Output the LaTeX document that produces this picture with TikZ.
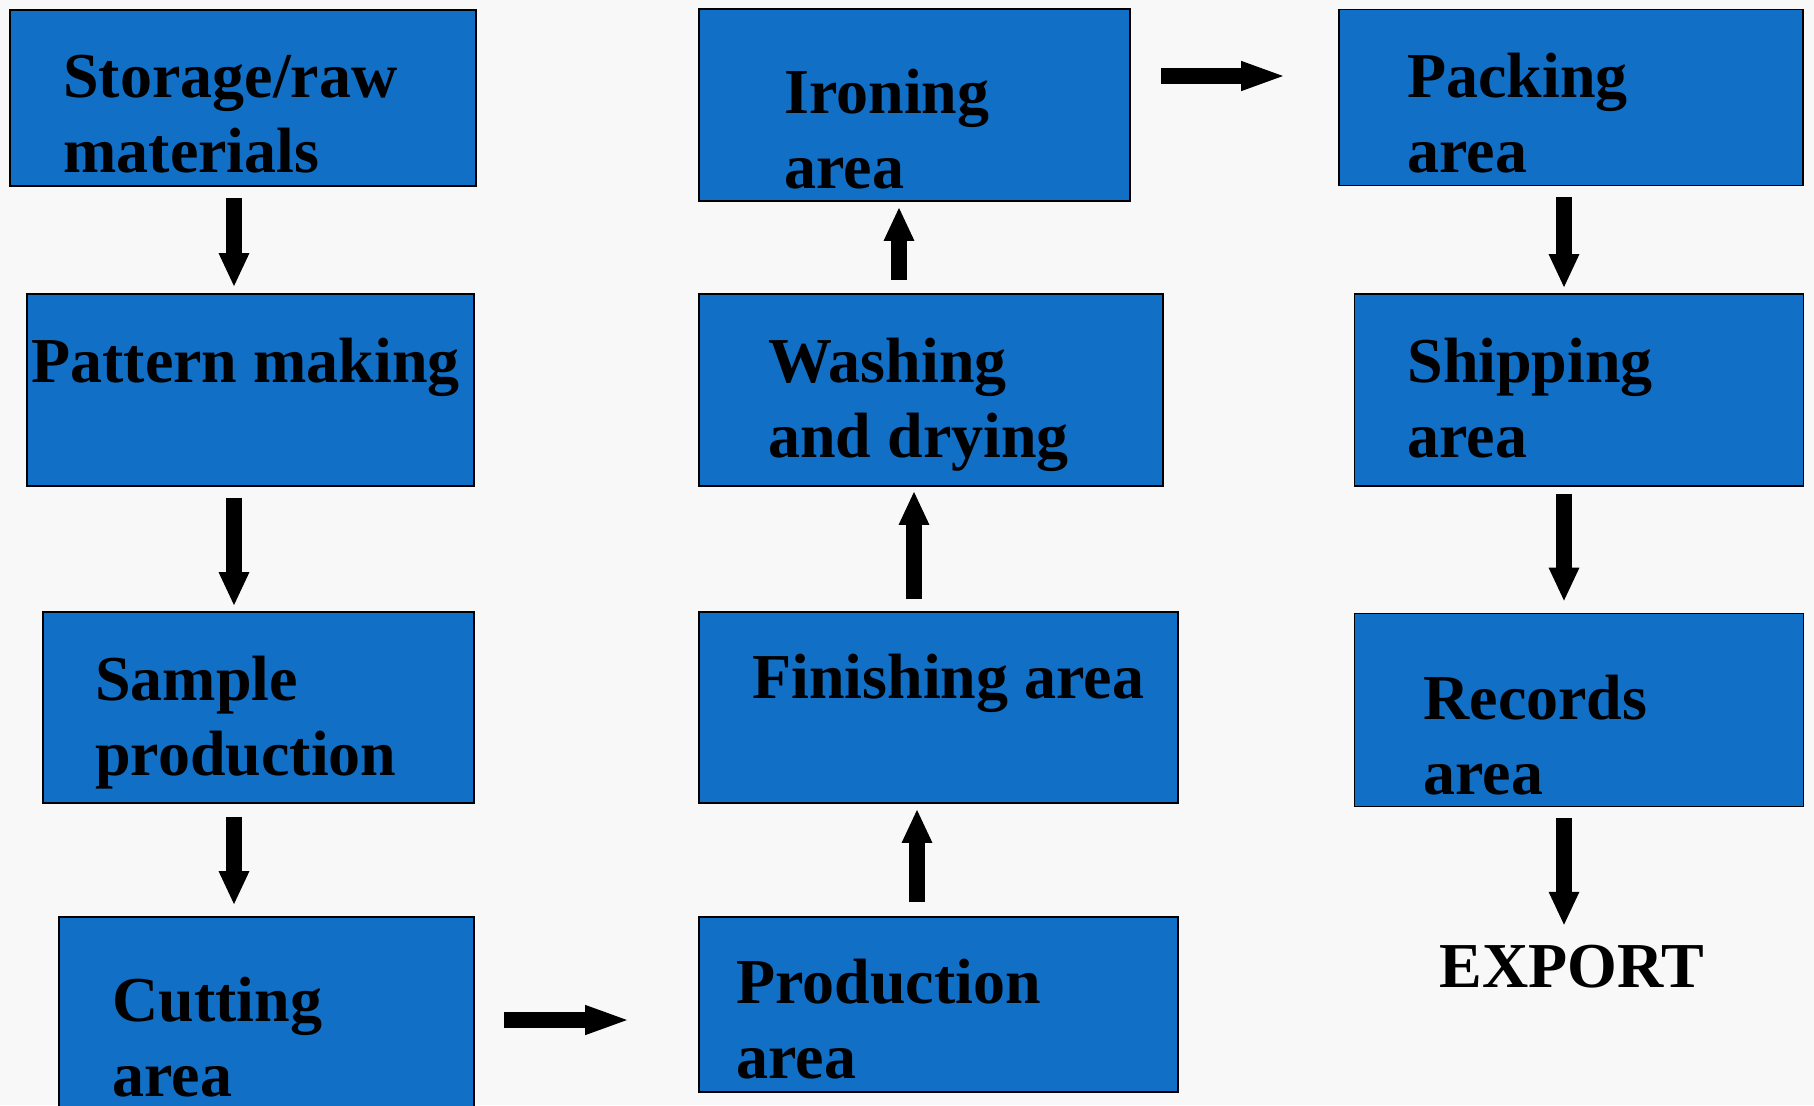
\documentclass[tikz,border=0pt]{standalone}
\usepackage{fontspec}
\setmainfont{Liberation Serif}
\usetikzlibrary{arrows.meta}
\definecolor{areablue}{RGB}{17,111,198}
\definecolor{paper}{RGB}{248,248,248}

\tikzset{
  areabox/.style={rectangle, draw=black, line width=0.8pt, fill=areablue, inner sep=0pt},
  areatext/.style={anchor=south west, inner sep=0pt, text depth=0pt, align=left,
    font=\fontsize{32}{37.5}\selectfont\bfseries},
  flow/.style={line width=8pt, -{Triangle[width=14pt,length=17pt]}},
  flowside/.style={line width=8pt, -{Triangle[width=13pt,length=23pt]}}
}

\begin{document}
\begin{tikzpicture}[x=0.5pt, y=-0.5pt]
\fill[paper] (0,0) rectangle (1814,1105);
\useasboundingbox (0,0) rectangle (1814,1105);

% lanes for the arrows
\coordinate (leftlane)  at (234,0);
\coordinate (rightlane) at (1564,0);
\coordinate (toplane)   at (0,76);
\coordinate (lowlane)   at (0,1020);

% left column
\node[areabox, minimum width=233pt,   minimum height=88pt]   (store)   at (243,98)     {};
\node[areabox, minimum width=223.5pt, minimum height=96pt]   (pattern) at (250.5,390)  {};
\node[areabox, minimum width=215.5pt, minimum height=95.5pt] (sample)  at (258.5,707.5) {};
\node[areabox, minimum width=207.5pt, minimum height=104pt]  (cutting) at (266.5,1021) {};

% middle column
\node[areabox, minimum width=215.5pt, minimum height=96pt]   (ironing)    at (914.5,105)   {};
\node[areabox, minimum width=232pt,   minimum height=96pt]   (washing)    at (931,390)     {};
\node[areabox, minimum width=239.5pt, minimum height=95.5pt] (finishing)  at (938.5,707.5) {};
\node[areabox, minimum width=239.5pt, minimum height=87.5pt] (production) at (938.5,1004.5) {};

% right column
\node[areabox, minimum width=232pt,   minimum height=88pt]   (packing)  at (1571,97.5)   {};
\node[areabox, minimum width=224.5pt, minimum height=96pt]   (shipping) at (1579,390)    {};
\node[areabox, minimum width=224.5pt, minimum height=96.5pt] (records)  at (1579,710)    {};

% texts
\node[areatext] (storetxt)      at (63,173)   {Storage/raw\\materials};
\node[areatext] (patterntxt)    at (31,383)   {Pattern making};
\node[areatext] (sampletxt)     at (95,776)   {Sample\\production};
\node[areatext] (cuttingtxt)    at (112,1097) {Cutting\\area};
\node[areatext] (ironingtxt)    at (784,189)  {Ironing\\area};
\node[areatext] (washingtxt)    at (768,458)  {Washing\\and drying};
\node[areatext] (finishingtxt)  at (752,699)  {Finishing area};
\node[areatext] (productiontxt) at (736,1079) {Production\\area};
\node[areatext] (packingtxt)    at (1407,173) {Packing\\area};
\node[areatext] (shippingtxt)   at (1407,458) {Shipping\\area};
\node[areatext] (recordstxt)    at (1423,795) {Records\\area};
\node[areatext] (export)        at (1439,988) {EXPORT};

% arrows
\draw[flow, shorten <=5.5pt, shorten >=3pt]   (store.south -| leftlane)   -- (pattern.north -| leftlane);
\draw[flow, shorten <=5.5pt, shorten >=2.5pt] (pattern.south -| leftlane) -- (sample.north -| leftlane);
\draw[flow, shorten <=6.5pt, shorten >=5.5pt] (sample.south -| leftlane)  -- (cutting.north -| leftlane);
\draw[flowside, shorten <=14.5pt, shorten >=33.5pt] (cutting.east |- lowlane) -- (production.west |- lowlane);
\draw[flow, shorten <=7pt, shorten >=2.5pt]   ([xshift=-10.75pt]production.north) -- ([xshift=-10.75pt]production.north |- finishing.south);
\draw[flow, shorten <=6pt, shorten >=2pt]     ([xshift=-12.25pt]finishing.north) -- ([xshift=-12.25pt]finishing.north |- washing.south);
\draw[flow, shorten <=6.5pt, shorten >=2.5pt] ([xshift=-16pt]washing.north) -- ([xshift=-16pt]washing.north |- ironing.south);
\draw[flowside, shorten <=15pt, shorten >=25.5pt] (ironing.east |- toplane) -- (packing.west |- toplane);
\draw[flow, shorten <=5.5pt, shorten >=2.5pt] (packing.south -| rightlane)  -- (shipping.north -| rightlane);
\draw[flow, shorten <=3.5pt, shorten >=5.5pt] (shipping.south -| rightlane) -- (records.north -| rightlane);
\draw[flow, shorten <=5.5pt, shorten >=9.5pt] (records.south -| rightlane)  -- (export.north -| rightlane);
\end{tikzpicture}
\end{document}
